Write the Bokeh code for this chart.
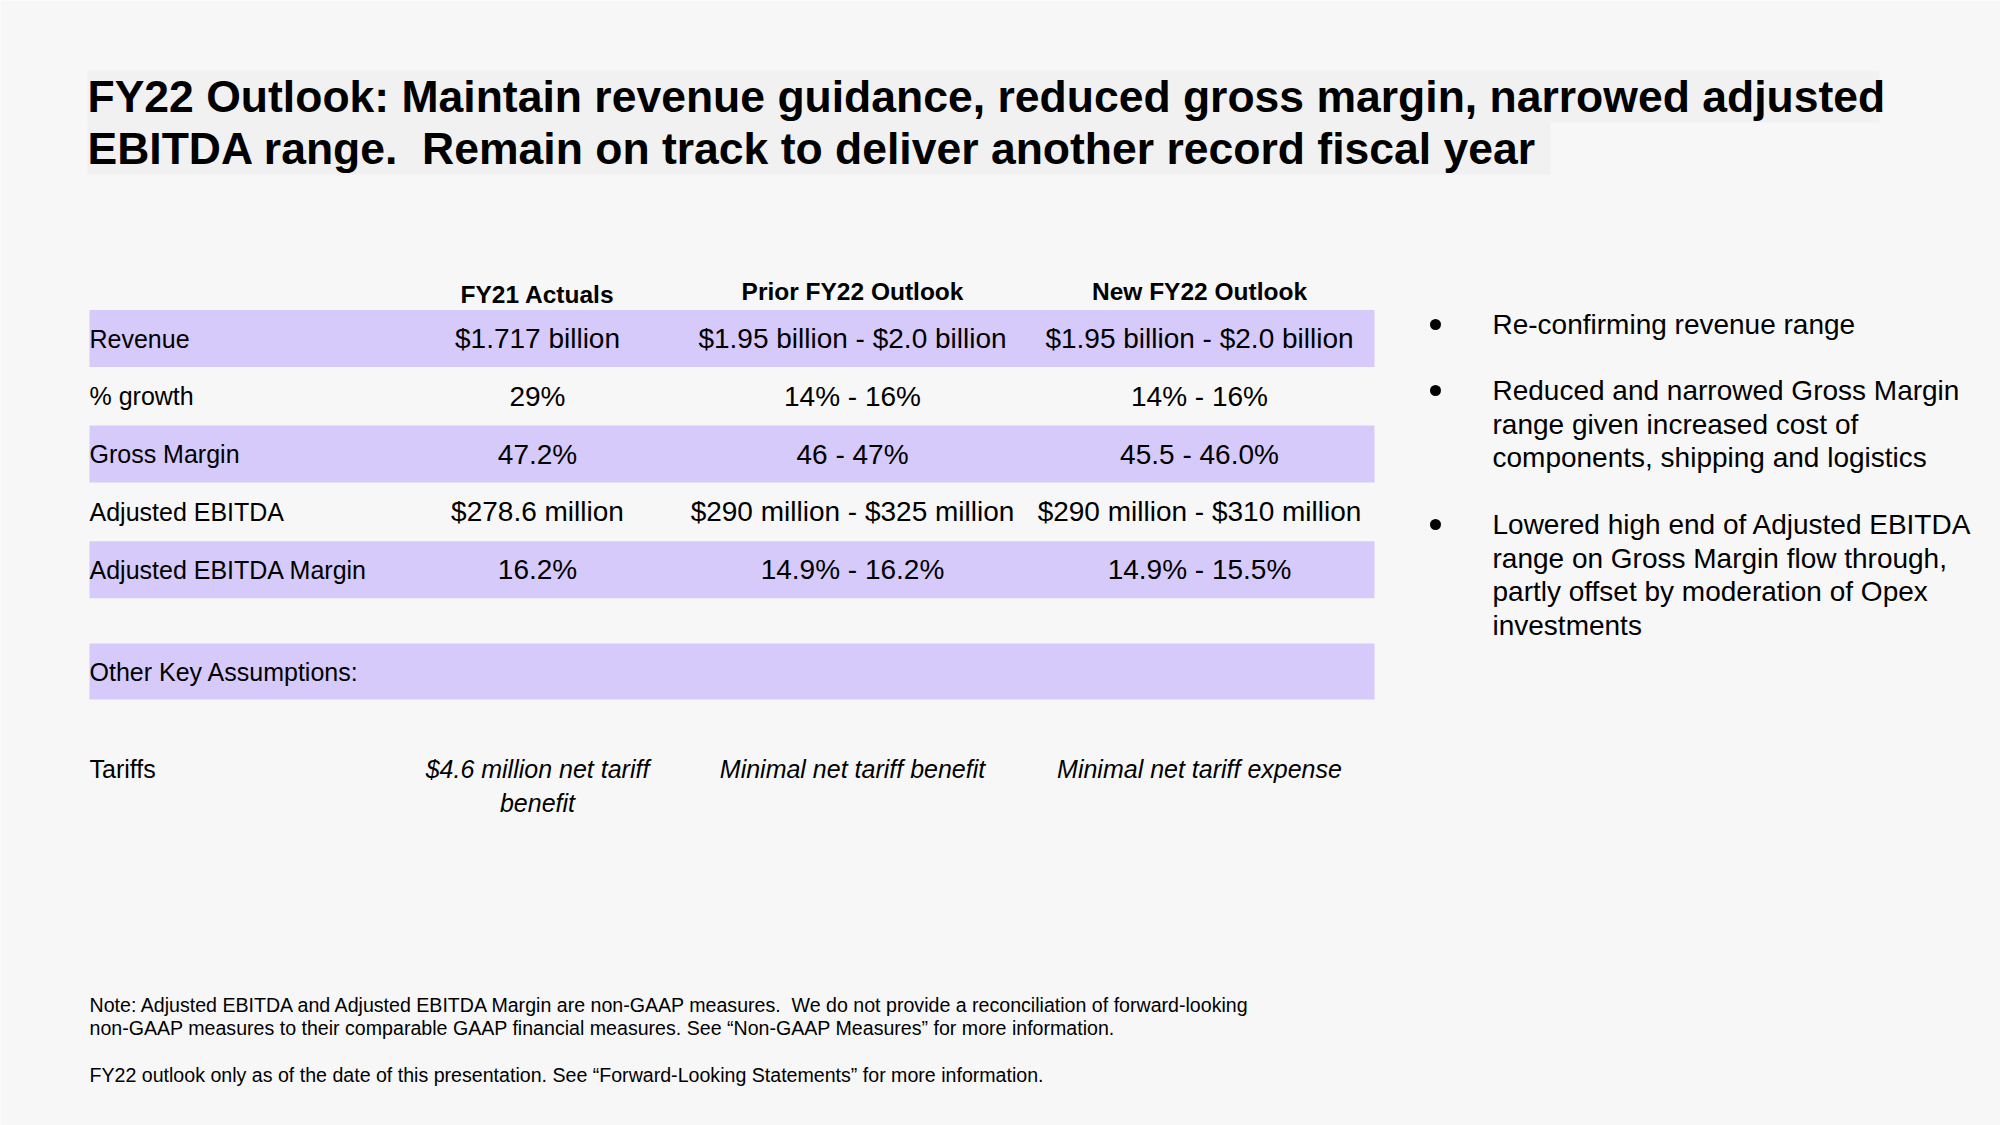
from bokeh.plotting import figure
from bokeh.models import Range1d
from bokeh.embed import file_html
from bokeh.resources import INLINE
from bokeh.core.properties import value

# ---------------- data ----------------
title_lines = [
    "FY22 Outlook: Maintain revenue guidance, reduced gross margin, narrowed adjusted",
    "EBITDA range.\u00a0 Remain on track to deliver another record fiscal year",
]
columns = ["FY21 Actuals", "Prior FY22 Outlook", "New FY22 Outlook"]
row_labels = ["Revenue", "% growth", "Gross Margin", "Adjusted EBITDA", "Adjusted EBITDA Margin"]
fy21_actuals = ["$1.717 billion", "29%", "47.2%", "$278.6 million", "16.2%"]
prior_outlook = ["$1.95 billion - $2.0 billion", "14% - 16%", "46 - 47%",
                 "$290 million - $325 million", "14.9% - 16.2%"]
new_outlook = ["$1.95 billion - $2.0 billion", "14% - 16%", "45.5 - 46.0%",
               "$290 million - $310 million", "14.9% - 15.5%"]
shaded_rows = [True, False, True, False, True]
other_header = "Other Key Assumptions:"
tariff_label = "Tariffs"
tariff_values = [["$4.6 million net tariff", "benefit"],
                 ["Minimal net tariff benefit"],
                 ["Minimal net tariff expense"]]
bullets = [
    ["Re-confirming revenue range"],
    ["Reduced and narrowed Gross Margin", "range given increased cost of",
     "components, shipping and logistics"],
    ["Lowered high end of Adjusted EBITDA", "range on Gross Margin flow through,",
     "partly offset by moderation of Opex", "investments"],
]
notes = [
    "Note: Adjusted EBITDA and Adjusted EBITDA Margin are non-GAAP measures.\u00a0 We do not provide a reconciliation of forward-looking",
    "non-GAAP measures to their comparable GAAP financial measures. See \u201cNon-GAAP Measures\u201d for more information.",
    "",
    "FY22 outlook only as of the date of this presentation. See \u201cForward-Looking Statements\u201d for more information.",
]

# ---------------- layout ----------------
BG = "#f7f7f7"
BAND = "#d6cafb"
FONT = "Liberation Sans"
W, H = 2000, 1125

p = figure(width=W, height=H, output_backend="svg", toolbar_location=None,
           x_range=Range1d(0, W), y_range=Range1d(H, 0),
           background_fill_color=BG, border_fill_color=BG, outline_line_color=None,
           min_border=0)
p.axis.visible = False
p.grid.visible = False

# title highlight boxes
p.quad(left=[87, 87], right=[1879, 1550], top=[70, 122], bottom=[122, 174],
       fill_color="#f1f1f1", line_color=None)
title_y = [96, 148]
p.text(x=[87] * 2, y=title_y, text=title_lines, text_font=value(FONT),
       text_font_size="44.5px", text_font_style="bold", text_color="#000000",
       text_baseline="middle", text_align="left")

# table geometry
left, right = 89, 1374
col_x = [537, 852, 1199]
row0, row_step, band_h = 338, 57.8, 57
row_y = [row0 + i * row_step for i in range(len(row_labels))]

# bands
bands = [y for y, s in zip(row_y, shaded_rows) if s]
other_y = 671
band_tops = [y - band_h / 2 for y in bands] + [other_y - 28]
band_bottoms = [y + band_h / 2 for y in bands] + [other_y + 28]
p.quad(left=[left] * len(band_tops), right=[right] * len(band_tops),
       top=band_tops, bottom=band_bottoms, fill_color=BAND, line_color=None)

# headers
p.text(x=col_x, y=[294, 291, 291], text=columns, text_font=value(FONT),
       text_font_size="24.5px", text_font_style="bold", text_color="#000000",
       text_baseline="middle", text_align="center")

# row labels
p.text(x=[left] * len(row_labels), y=row_y, text=row_labels, text_font=value(FONT),
       text_font_size="25px", text_color="#000000", text_baseline="middle", text_align="left")

# values
for cx, vals in zip(col_x, [fy21_actuals, prior_outlook, new_outlook]):
    p.text(x=[cx] * len(vals), y=row_y, text=vals, text_font=value(FONT),
           text_font_size="28px", text_color="#000000", text_baseline="middle",
           text_align="center")

# other key assumptions
p.text(x=[left], y=[other_y], text=[other_header], text_font=value(FONT),
       text_font_size="25px", text_color="#000000", text_baseline="middle", text_align="left")
tariff_y = 768
p.text(x=[left], y=[tariff_y], text=[tariff_label], text_font=value(FONT),
       text_font_size="25px", text_color="#000000", text_baseline="middle", text_align="left")
for cx, lines in zip(col_x, tariff_values):
    p.text(x=[cx] * len(lines), y=[tariff_y + 34.4 * i for i in range(len(lines))], text=lines,
           text_font=value(FONT), text_font_size="25px", text_font_style="italic",
           text_color="#000000", text_baseline="middle", text_align="center")

# bullets
bullet_start = [324, 390, 524]
line_h = 33.5
for y0, lines in zip(bullet_start, bullets):
    p.scatter(x=[1435], y=[y0], size=11, marker="circle", fill_color="#000000", line_color=None)
    p.text(x=[1492] * len(lines), y=[y0 + line_h * i for i in range(len(lines))], text=lines,
           text_font=value(FONT), text_font_size="28px", text_color="#000000",
           text_baseline="middle", text_align="left")

# notes
note_y = [1004, 1027, 1050, 1074]
p.text(x=[89] * len(notes), y=note_y, text=notes, text_font=value(FONT),
       text_font_size="19.6px", text_color="#000000", text_baseline="middle", text_align="left")

open("out.html", "w").write(file_html(p, INLINE))
